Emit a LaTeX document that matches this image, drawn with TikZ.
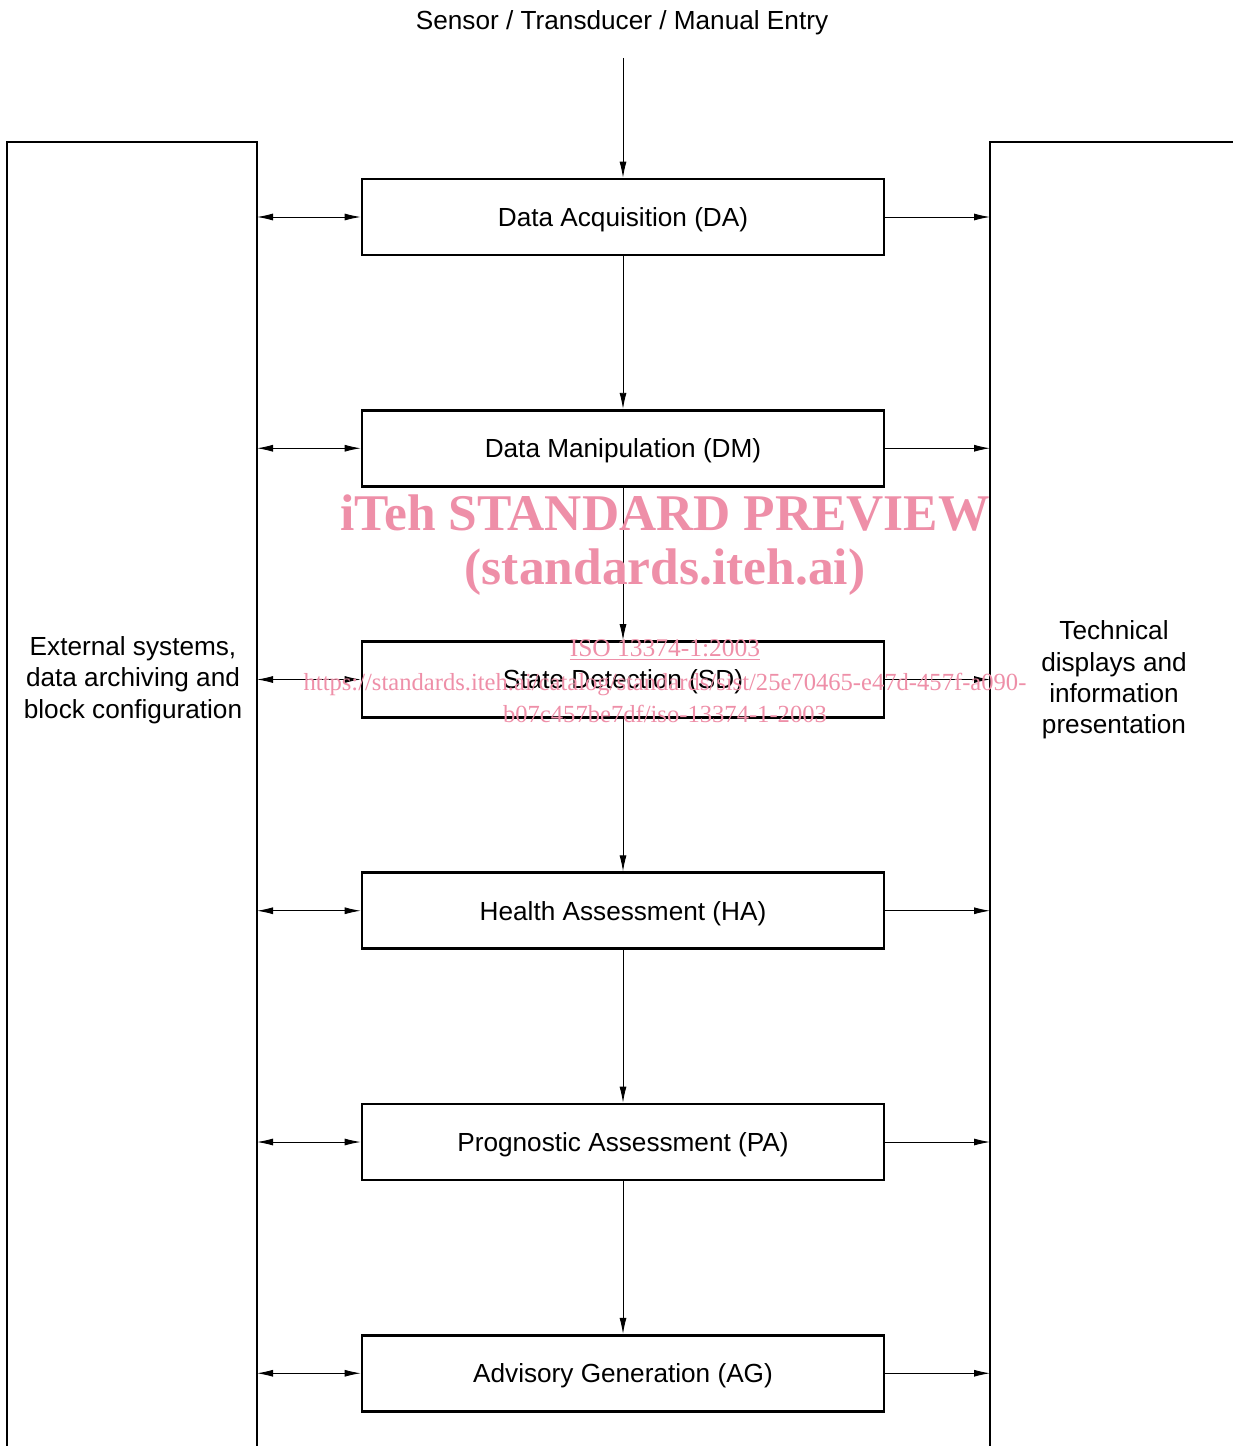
\documentclass[tikz,border=0pt]{standalone}
\usepackage{fontspec}
\setmainfont{Liberation Sans}
\newfontfamily\wmfont{Liberation Serif}
\usetikzlibrary{arrows.meta,positioning}
\definecolor{wmpink}{RGB}{238,143,168}
\tikzset{
  block/.style={
    shape = rectangle,
    draw,
    line width = 1.6pt,
    minimum width = 10.44cm,
    minimum height = 1.52cm,
    inner sep = 0pt,
    text height = 10.67pt,
    text depth = 0pt,
    font = \fontsize{14.9}{17.9}\selectfont
  },
  side/.style={
    align = center,
    inner sep = 0pt,
    font = \fontsize{14.9}{17.9}\selectfont
  },
  flow/.style={
    line width = 0.5pt,
    -{Latex[length=3.2mm,width=1.4mm]}
  },
  dflow/.style={
    line width = 0.5pt,
    {Latex[length=3.2mm,width=1.4mm]}-{Latex[length=3.2mm,width=1.4mm]}
  },
  wmark/.style={
    text = wmpink,
    inner sep = 0pt,
    font = \wmfont\bfseries\fontsize{29.3}{34}\selectfont
  },
  wlink/.style={
    text = wmpink,
    inner sep = 0pt,
    font = \wmfont\fontsize{14.5}{17}\selectfont
  }
}
\begin{document}
\begin{tikzpicture}[x=0.02cm,y=-0.02cm]
    \def\dy{231.25}
    \useasboundingbox (0,0) rectangle (1233,1446);
    \clip (0,0) rectangle (1233,1446);
    % side columns
    \draw[line width=1.4pt] (7,1460) -- (7,142) -- (257,142) -- (257,1460);
    \draw[line width=1.4pt] (990,1460) -- (990,142) -- (1245,142);
    \coordinate (ext) at (257,142);
    \coordinate (disp) at (990,142);
    \node[side] (extxt) at (133,680) {External systems,\\data archiving and\\block configuration};
    \node[side] (disptxt) at (1114,680) {Technical\\displays and\\information\\presentation};
    \node[side] (src) at (622,23) {Sensor / Transducer / Manual Entry};
    \coordinate (srcend) at (623,58);
    % processing blocks
    \foreach \n/\t [count=\i from 0] in {DA/{Data Acquisition (DA)}, DM/{Data Manipulation (DM)}, SD/{State Detection (SD)}, HA/{Health Assessment (HA)}, PA/{Prognostic Assessment (PA)}, AG/{Advisory Generation (AG)}}{
        \node[block] (\n) at (623,{217+\i*\dy}) {\t};
        \draw[dflow] (ext |- \n.west) -- (\n.west);
        \draw[flow] (\n.east) -- (disp |- \n.east);
    }
    \draw[flow] (srcend) -- (DA.north);
    \foreach \a/\b in {DA/DM, DM/SD, SD/HA, HA/PA, PA/AG}{
        \draw[flow] (\a.south) -- (\b.north);
    }
    % overlay
    \node[wmark] (wm1) at (665,513) {iTeh STANDARD PREVIEW};
    \node[wmark] (wm2) at (665,572) {(standards.iteh.ai)};
    \node[wlink] (wm3) at (665,650) {\underline{ISO 13374-1:2003}};
    \node[wlink,font=\wmfont\fontsize{14}{17}\selectfont] (wm4) at (665,684) {https://standards.iteh.ai/catalog/standards/sist/25e70465-e47d-457f-a090-};
    \node[wlink,font=\wmfont\fontsize{14}{17}\selectfont] (wm5) at (665,714) {b07c457be7df/iso-13374-1-2003};
\end{tikzpicture}
\end{document}
